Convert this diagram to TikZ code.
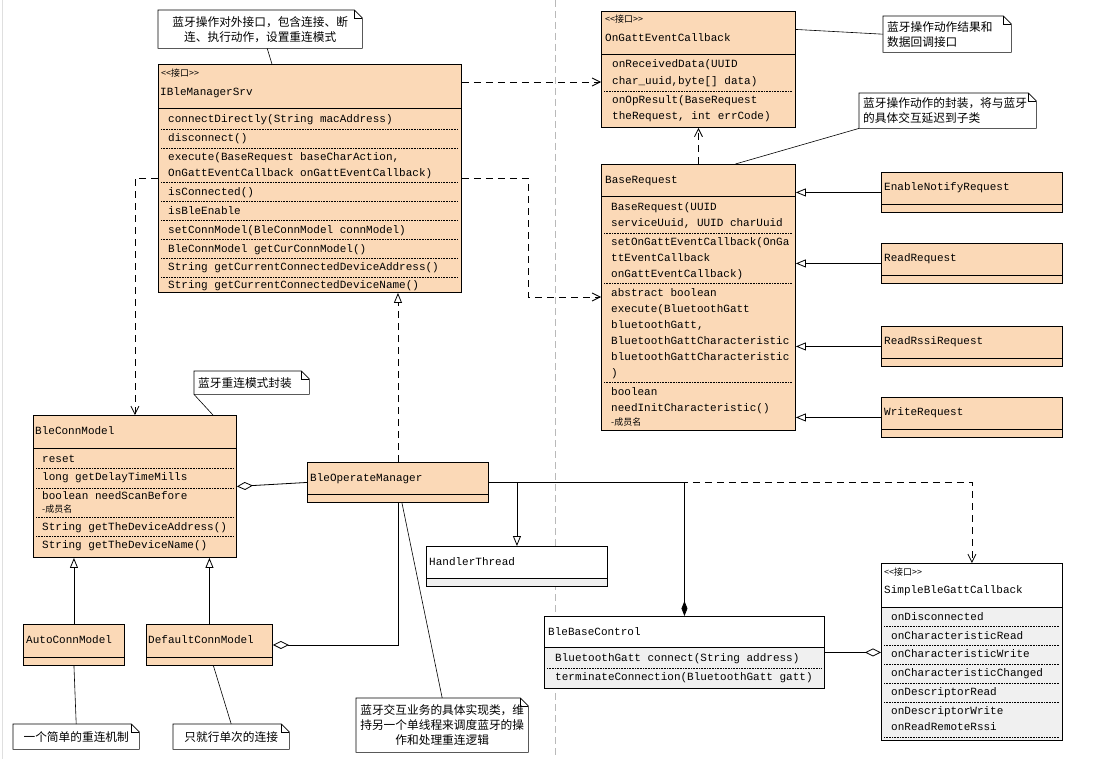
\documentclass[tikz,border=0pt]{standalone}
\usepackage{fontspec}
\setmonofont{Liberation Mono}
\newfontfamily\cjk{Noto Sans CJK SC}
\usetikzlibrary{arrows.meta,positioning}
\definecolor{peach}{RGB}{251,217,183}
\definecolor{methgray}{RGB}{240,240,240}
% stereotype label and dog-eared note outline
\newcommand\stereo{<\kern0pt<接口>\kern0pt>}
\newcommand\dogear[1]{%
  \draw[link] (#1.north west) -- ([xshift=-8pt]#1.north east) -- ([yshift=-8pt]#1.north east) -- (#1.south east) -- (#1.south west) -- cycle;
  \draw[link] ([xshift=-8pt]#1.north east) -- ([xshift=-8pt,yshift=-8pt]#1.north east) -- ([yshift=-8pt]#1.north east);}

\begin{document}
\begin{tikzpicture}[x=1pt,y=-1pt,>=Stealth,
  box/.style={draw,line width=0.9pt,fill=peach,anchor=north west,inner sep=0pt},
  wbox/.style={box,fill=white},
  mono/.style={anchor=west,inner sep=0pt,text height=9pt,text depth=2pt,font=\ttfamily\fontsize{11}{13}\selectfont},
  tag/.style={anchor=west,inner sep=0pt,font=\cjk\fontsize{9}{10}\selectfont},
  sepl/.style={densely dotted,line width=0.6pt},
  hdr/.style={line width=0.9pt},
  note/.style={fill=white,anchor=north west,inner xsep=4pt,inner ysep=0pt,font=\cjk\fontsize{11.7}{15}\selectfont},
  dep/.style={line width=0.8pt,dash pattern=on 7pt off 5pt,-{Straight Barb[length=8pt,width=8pt]}},
  real/.style={line width=0.8pt,dash pattern=on 7pt off 5pt,-{Triangle[length=10pt,width=8pt,fill=white]}},
  gen/.style={line width=0.8pt,-{Triangle[length=10pt,width=8pt,fill=white]}},
  agg/.style={line width=0.8pt,{Diamond[length=16pt,width=8pt,fill=white]}-},
  comp/.style={line width=0.8pt,{Diamond[length=15pt,width=6pt]}-},
  link/.style={line width=0.6pt}]
\fill[white] (0,0) rectangle (1107,759);
\useasboundingbox (0,0) rectangle (1107,759);
\draw[gray!25] (2,0) -- (2,759);
\draw[gray!55,line width=0.7pt,dash pattern=on 7pt off 4pt] (555,0) -- (555,759);

% IBleManagerSrv
\node[box,minimum width=303pt,minimum height=228pt] (srv) at (158,64) {};
\node[tag] (srvT) at (161,73) {\stereo};
\node[mono] (srvN) at (160,92) {IBleManagerSrv};
\draw[hdr] (158,108) -- (461,108);
\node[mono] (srv1) at (168,119) {connectDirectly(String macAddress)};
\node[mono] (srv2) at (168,138) {disconnect()};
\node[mono] (srv3) at (168,157) {execute(BaseRequest baseCharAction,};
\node[mono] (srv4) at (168,173) {OnGattEventCallback onGattEventCallback)};
\node[mono] (srv5) at (168,192) {isConnected()};
\node[mono] (srv6) at (168,211) {isBleEnable};
\node[mono] (srv7) at (168,230) {setConnModel(BleConnModel connModel)};
\node[mono] (srv8) at (168,249) {BleConnModel getCurConnModel()};
\node[mono] (srv9) at (168,267) {String getCurrentConnectedDeviceAddress()};
\node[mono] (srv10) at (168,285) {String getCurrentConnectedDeviceName()};
\foreach \y in {129,148,182,201,220,239,258,277}
  \draw[sepl] (161,\y) -- (458,\y);

% OnGattEventCallback
\node[box,minimum width=194pt,minimum height=116pt] (ogec) at (601,11) {};
\node[tag] (ogecT) at (605,19) {\stereo};
\node[mono] (ogecN) at (605,38) {OnGattEventCallback};
\draw[hdr] (601,54) -- (795,54);
\node[mono] (ogec1) at (612,64) {onReceivedData(UUID};
\node[mono] (ogec2) at (612,81) {char\_uuid,byte[] data)};
\node[mono] (ogec3) at (612,100) {onOpResult(BaseRequest};
\node[mono] (ogec4) at (612,116) {theRequest, int errCode)};
\draw[sepl] (604,91) -- (792,91);

% BaseRequest
\node[box,minimum width=194pt,minimum height=266pt] (breq) at (601,164) {};
\node[mono] (breqN) at (605,180) {BaseRequest};
\draw[hdr] (601,196) -- (795,196);
\node[mono] (breq1) at (611,207) {BaseRequest(UUID};
\node[mono] (breq2) at (611,223) {serviceUuid, UUID charUuid};
\node[mono] (breq3) at (611,242) {setOnGattEventCallback(OnGa};
\node[mono] (breq4) at (611,258) {ttEventCallback};
\node[mono] (breq5) at (611,274) {onGattEventCallback)};
\node[mono] (breq6) at (611,293) {abstract boolean};
\node[mono] (breq7) at (611,309) {execute(BluetoothGatt};
\node[mono] (breq8) at (611,325) {bluetoothGatt,};
\node[mono] (breq9) at (611,341) {BluetoothGattCharacteristic};
\node[mono] (breq10) at (611,357) {bluetoothGattCharacteristic};
\node[mono] (breq11) at (611,373) {)};
\node[mono] (breq12) at (611,392) {boolean};
\node[mono] (breq13) at (611,408) {needInitCharacteristic()};
\node[tag] (breq14) at (611,422) {-成员名};
\foreach \y in {233,283,382}
  \draw[sepl] (604,\y) -- (792,\y);

% request subclasses
\node[box,minimum width=181pt,minimum height=40pt] (enr) at (881,172) {};
\node[mono] (enrN) at (884,187) {EnableNotifyRequest};
\draw[hdr] (881,204) -- (1062,204);
\node[box,minimum width=181pt,minimum height=40pt] (rdr) at (881,243) {};
\node[mono] (rdrN) at (884,258) {ReadRequest};
\draw[hdr] (881,275) -- (1062,275);
\node[box,minimum width=181pt,minimum height=40pt] (rrr) at (881,326) {};
\node[mono] (rrrN) at (884,341) {ReadRssiRequest};
\draw[hdr] (881,358) -- (1062,358);
\node[box,minimum width=181pt,minimum height=40pt] (wrr) at (881,397) {};
\node[mono] (wrrN) at (884,412) {WriteRequest};
\draw[hdr] (881,429) -- (1062,429);

% BleConnModel
\node[box,minimum width=203pt,minimum height=142pt] (bcm) at (33,415) {};
\node[mono] (bcmN) at (35,431) {BleConnModel};
\draw[hdr] (33,448) -- (236,448);
\node[mono] (bcm1) at (42,459) {reset};
\node[mono] (bcm2) at (42,477) {long getDelayTimeMills};
\node[mono] (bcm3) at (42,496) {boolean needScanBefore};
\node[tag] (bcm4) at (42,509) {-成员名};
\node[mono] (bcm5) at (42,527) {String getTheDeviceAddress()};
\node[mono] (bcm6) at (42,545) {String getTheDeviceName()};
\foreach \y in {468,488,517,536}
  \draw[sepl] (36,\y) -- (233,\y);

% BleOperateManager and its parts
\node[box,minimum width=181pt,minimum height=40pt] (bom) at (307,462) {};
\node[mono] (bomN) at (310,478) {BleOperateManager};
\draw[hdr] (307,494) -- (488,494);

\node[wbox,minimum width=181pt,minimum height=40pt] (ht) at (426,546) {};
\fill[methgray] (426.5,578) rectangle (606.5,585.5);
\node[mono] (htN) at (429,562) {HandlerThread};
\draw[hdr] (426,578) -- (607,578);

\node[wbox,minimum width=280pt,minimum height=72pt] (bbc) at (544,616) {};
\fill[methgray] (544.5,647) rectangle (823.5,687.5);
\node[mono] (bbcN) at (548,632) {BleBaseControl};
\draw[hdr] (544,647) -- (824,647);
\node[mono] (bbc1) at (555,658) {BluetoothGatt connect(String address)};
\node[mono] (bbc2) at (555,677) {terminateConnection(BluetoothGatt gatt)};
\draw[sepl] (547,668) -- (821,668);

\node[wbox,minimum width=181pt,minimum height=177pt] (sbgc) at (881,563) {};
\fill[methgray] (881.5,607) rectangle (1061.5,739.5);
\node[tag] (sbgcT) at (884,572) {\stereo};
\node[mono] (sbgcN) at (884,590) {SimpleBleGattCallback};
\draw[hdr] (881,607) -- (1062,607);
\node[mono] (sbgc1) at (891,617) {onDisconnected};
\node[mono] (sbgc2) at (891,636) {onCharacteristicRead};
\node[mono] (sbgc3) at (891,654) {onCharacteristicWrite};
\node[mono] (sbgc4) at (891,673) {onCharacteristicChanged};
\node[mono] (sbgc5) at (891,692) {onDescriptorRead};
\node[mono] (sbgc6) at (891,711) {onDescriptorWrite};
\node[mono] (sbgc7) at (891,727) {onReadRemoteRssi};
\foreach \y in {626,645,664,683,702,737}
  \draw[sepl] (884,\y) -- (1059,\y);

% connection models
\node[box,minimum width=101pt,minimum height=41pt] (acm) at (23,624) {};
\node[mono] (acmN) at (26,640) {AutoConnModel};
\draw[hdr] (23,657) -- (124,657);
\node[box,minimum width=126pt,minimum height=41pt] (dcm) at (146,624) {};
\node[mono] (dcmN) at (148,640) {DefaultConnModel};
\draw[hdr] (146,657) -- (272,657);

% notes
\node[note,text width=196pt,minimum height=38pt,align=center] (n1) at (158,10) {蓝牙操作对外接口，包含连接、断\\连、执行动作，设置重连模式};
\dogear{n1}
\node[note,text width=120pt,minimum height=36pt,align=left] (n2) at (883,16) {蓝牙操作动作结果和\\数据回调接口};
\dogear{n2}
\node[note,text width=169pt,minimum height=35pt,align=left] (n3) at (859,93) {蓝牙操作动作的封装，将与蓝牙\\的具体交互延迟到子类};
\dogear{n3}
\node[note,text width=107pt,minimum height=23pt,align=left] (n4) at (194,371) {蓝牙重连模式封装};
\dogear{n4}
\node[note,text width=118pt,minimum height=25pt,align=center] (n5) at (13,724) {一个简单的重连机制};
\dogear{n5}
\node[note,text width=108pt,minimum height=25pt,align=center] (n6) at (173,724) {只就行单次的连接};
\dogear{n6}
\node[note,text width=164pt,minimum height=54pt,align=center] (n7) at (356,698) {蓝牙交互业务的具体实现类，维\\持另一个单线程来调度蓝牙的操\\作和处理重连逻辑};
\dogear{n7}

% connectors
\coordinate (dy1) at (0,82);
\coordinate (dy2) at (0,297);
\draw[dep] (srv.east |- dy1) -- (ogec.west |- dy1);
\draw[dep] (srv.east) -- ++(66,0) |- (breq.west |- dy2);
\draw[dep] (srv.west) -| (bcm.north);
\draw[dep] (breq.north) -- (ogec.south);
\draw[gen] (enr.west) -- (enr.west -| breq.east);
\draw[gen] (rdr.west) -- (rdr.west -| breq.east);
\draw[gen] (rrr.west) -- (rrr.west -| breq.east);
\draw[gen] (wrr.west) -- (wrr.west -| breq.east);
\draw[real] (bom.north) -- (bom.north |- srv.south);
\draw[agg] (bcm.east) -- (bom.west);
\draw[gen] (acm.north) -- (acm.north |- bcm.south);
\draw[gen] (dcm.north) -- (dcm.north |- bcm.south);
\draw[agg] (dcm.east) -| (bom.south);
\draw[dep] (bom.east) -| (sbgc.north);
\draw[gen] (bom.east) -| (ht.north);
\draw[comp] (bbc.north) |- (bom.east);
\draw[agg] (sbgc.west |- bbc.east) -- (bbc.east);
\draw[link] ([xshift=7pt]n1.south) -- ([xshift=-38pt]srv.north);
\draw[link] (n2.west) -- ([yshift=40pt]ogec.east);
\draw[link] (n3.south west) -- ([xshift=37pt]breq.north);
\draw[link] (n4.south west) -- ([xshift=78pt]bcm.north);
\draw[link] (n5.north) -- (acm.south);
\draw[link] (n6.north) -- ([xshift=4pt]dcm.south);
\draw[link] (n7.north) -- ([xshift=4pt]bom.south);
\end{tikzpicture}
\end{document}
